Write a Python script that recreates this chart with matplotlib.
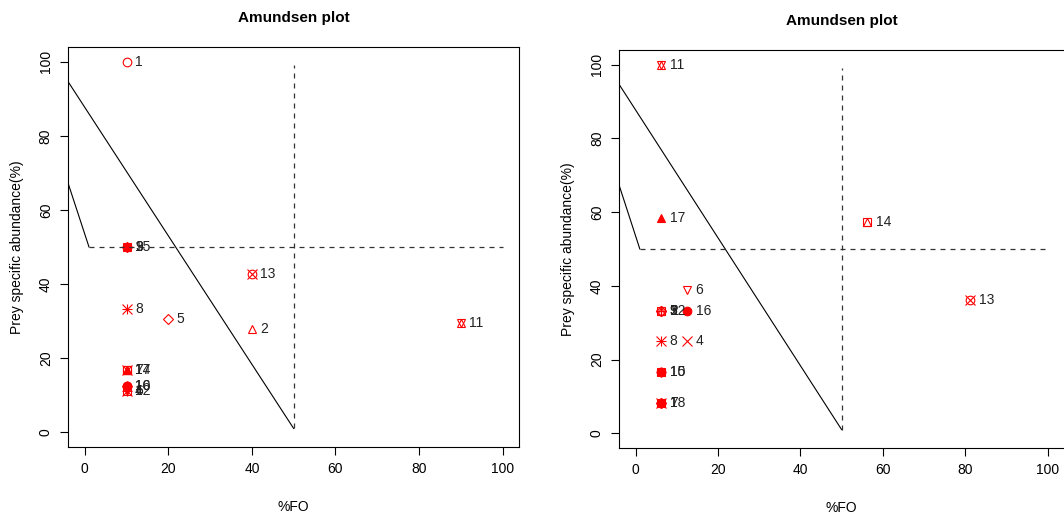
import matplotlib
matplotlib.use("Agg")
import matplotlib.pyplot as plt

plt.rcParams['font.family'] = ['Liberation Sans', 'DejaVu Sans']

# левая панель: номер корма, %FO, удельное обилие
items_left = [1, 2, 3, 4, 5, 6, 7, 8, 9, 10, 11, 12, 13, 14, 15, 16, 17]
fo_left = [10, 40, 10, 10, 20, 10, 10, 10, 10, 10, 90, 10, 40, 10, 10, 10, 10]
psa_left = [100, 27.8, 50, 11.1, 30.5, 11.1, 16.7, 33.3, 50, 12.5, 29.5,
            11.1, 42.6, 16.7, 50, 12.5, 16.7]

# правая панель
items_right = [1, 2, 3, 4, 5, 6, 7, 8, 9, 10, 11, 12, 13, 14, 15, 16, 17, 18]
fo_right = [6.25, 6.25, 6.25, 12.5, 6.25, 12.5, 6.25, 6.25, 6.25, 6.25, 6.25,
            6.25, 81.25, 56.25, 6.25, 12.5, 6.25, 6.25]
psa_right = [8.3, 33.3, 33.3, 25, 33.3, 39, 8.3, 25, 33.3, 16.7, 100,
             33.3, 36.3, 57.3, 16.7, 33.3, 58.3, 8.3]

# вспомогательные линии графика Амундсена
diag_x = [-4, 50]
diag_y = [94.6, 1]
short_x = [-4, 1]
short_y = [67.2, 50]
hline_x = [1, 100]
hline_y = [50, 50]
vline_x = [50, 50]
vline_y = [1, 99]

ticks = [0, 20, 40, 60, 80, 100]

# символы R pch -> набор маркеров matplotlib (маркер, залит)
PCH = {
    1: [('o', False)], 2: [('^', False)], 3: [('+', False)], 4: [('x', False)],
    5: [('D', False)], 6: [('v', False)], 7: [('s', False), ('x', False)],
    8: [('+', False), ('x', False)], 9: [('D', False), ('+', False)],
    10: [('o', False), ('+', False)], 11: [('^', False), ('v', False)],
    12: [('s', False), ('+', False)], 13: [('o', False), ('x', False)],
    14: [('s', False), ('^', False)], 15: [('s', True)], 16: [('o', True)],
    17: [('^', True)], 18: [('D', True)],
}


def draw_panel(ax, items, fo, psa):
    for it, x, y in zip(items, fo, psa):
        for m, filled in PCH[it]:
            size = 5.5 if m in ('D', 's') else 6.2
            if m in ('+', 'x'):
                size = 6.5
            ax.plot(x, y, marker=m, ms=size, color='red', mew=0.8,
                    mfc='red' if filled else 'none', ls='none')
        ax.annotate(str(it), (x, y), xytext=(6, 0), textcoords='offset points',
                    ha='left', va='center', fontsize=10, color='#222222')
    ax.plot(diag_x, diag_y, color='black', lw=0.8)
    ax.plot(short_x, short_y, color='black', lw=0.8)
    ax.plot(hline_x, hline_y, color='#333333', lw=0.9, ls=(0, (4, 4)))
    ax.plot(vline_x, vline_y, color='#333333', lw=0.9, ls=(0, (4, 4)))
    ax.set_xlim(-4, 104)
    ax.set_ylim(-4, 104)
    ax.set_xticks(ticks)
    ax.set_yticks(ticks)
    ax.set_yticklabels([str(t) for t in ticks], rotation=90, va='center')
    ax.tick_params(direction='out', length=6, width=0.8, labelsize=10, pad=5)
    for s in ax.spines.values():
        s.set_linewidth(0.8)
    ax.set_title("Amundsen plot", fontweight='bold', fontsize=11, pad=18)
    ax.set_xlabel("%FO", fontsize=10, labelpad=17)
    ax.set_ylabel("Prey specific abundance(%)", fontsize=10, labelpad=11)


fig = plt.figure(figsize=(10.64, 5.15), dpi=100)
ax1 = fig.add_axes([0.064, 0.132, 0.424, 0.777])
ax2 = fig.add_axes([0.582, 0.130, 0.418, 0.773])
draw_panel(ax1, items_left, fo_left, psa_left)
draw_panel(ax2, items_right, fo_right, psa_right)
ax2.spines['right'].set_visible(False)

fig.savefig("out.png", dpi=100)
